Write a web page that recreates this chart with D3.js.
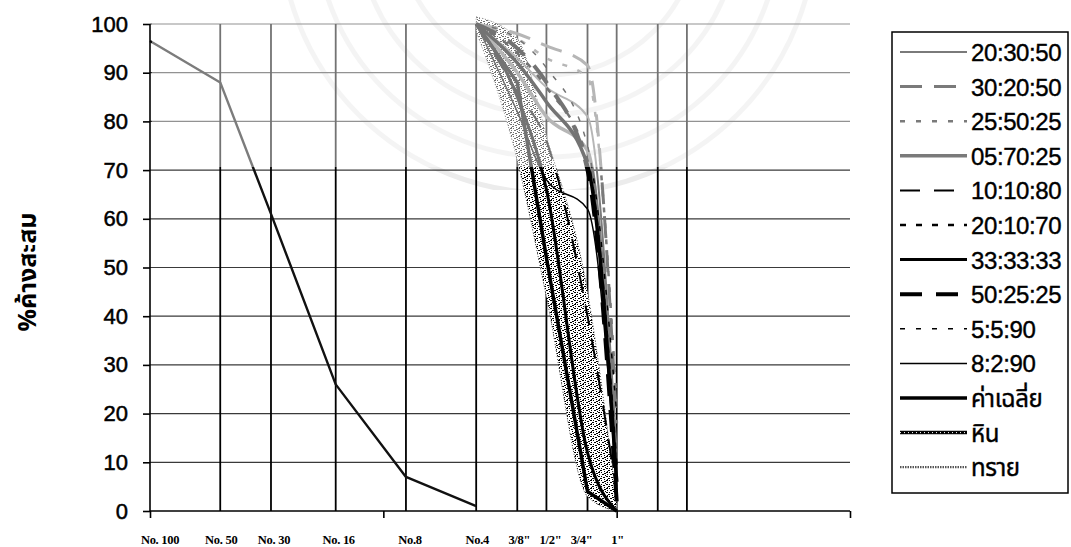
<!DOCTYPE html>
<html>
<head>
<meta charset="utf-8">
<script src="https://cdn.jsdelivr.net/npm/d3@7"></script>
<style>
body { margin: 0; background: #fff; }
svg { display: block; }
.grid-h line { stroke: #3a3a3a; stroke-width: 1.2; }
.grid-v line { stroke: #000; stroke-width: 1.8; }
.axis path, .axis line { stroke: #000; stroke-width: 1.6; }
.y.axis text { font-family: "Liberation Sans", Arial, sans-serif; font-size: 22px; fill: #000; stroke: #000; stroke-width: 0.5; }
.xlabel { font-family: "Liberation Serif", "Times New Roman", serif; font-weight: bold; font-size: 12.5px; letter-spacing: -0.3px; }
.legend text { font-family: "Liberation Sans", Arial, sans-serif; font-size: 24px; letter-spacing: -0.4px; fill: #000; stroke: #000; stroke-width: 0.4; }
</style>
</head>
<body>
<div id="grading-chart"></div>
<script>
// sieve labels and their positions on the log axis
var sieveLabels = ["No. 100", "No. 50", "No. 30", "No. 16", "No.8", "No.4", "3/8\"", "1/2\"", "3/4\"", "1\""];
var sieveSizes = [1, 2, 3.3, 6.25, 12.5, 25, 37.5, 50, 75, 100];
var extraGrid = [150, 200];
var yTicks = [0, 10, 20, 30, 40, 50, 60, 70, 80, 90, 100];

// coarse part: No.4, 3/8", 1/2", 3/4", 1"
var coarseSizes = [25, 37.5, 50, 75, 100];
var seriesNames = ["20:30:50", "30:20:50", "25:50:25", "05:70:25", "10:10:80", "20:10:70",
                   "33:33:33", "50:25:25", "5:5:90", "8:2:90", "ค่าเฉลี่ย", "หิน", "ทราย"];
var mix203050 = [100, 93, 87, 81, 12];
var mix302050 = [100, 98, 95.5, 91.5, 18];
var mix255025 = [100, 97, 93, 89, 22];
var mix057025 = [100, 90, 81, 74, 6];
var mix101080 = [100, 86, 76, 40, 4];
var mix201070 = [100, 94, 87, 72, 9];
var mix333333 = [100, 85, 66, 12, 0];
var mix502525 = [100, 95, 88, 70, 2];
var mix5590 = [100, 97, 91, 75, 20];
var mix8290 = [100, 82, 68, 62, 5];
var average = [100, 92, 84, 71, 6];
var rock = [100, 88, 52, 4, 0];
// sand: No.100 .. No.4
var sand = [96.5, 88, 61, 26, 7, 1];
// stippled band over the coarse sieves
var bandHigh = [101.5, 97, 77, 45, 2];
var bandLow = [98.5, 72, 44, 3, 0];

var seriesValues = [mix203050, mix302050, mix255025, mix057025, mix101080, mix201070,
                    mix333333, mix502525, mix5590, mix8290, average, rock, sand];

// line styles per series (same order as seriesNames)
var styles = [
  {color: "#7a7a7a", width: 2,   dash: null},
  {color: "#7a7a7a", width: 3,   dash: "22,12"},
  {color: "#7a7a7a", width: 2.5, dash: "5,11"},
  {color: "#7a7a7a", width: 3.5, dash: null},
  {color: "#000",    width: 2,   dash: "20,14"},
  {color: "#000",    width: 2.5, dash: "6,10"},
  {color: "#000",    width: 3,   dash: null},
  {color: "#000",    width: 4,   dash: "22,14"},
  {color: "#000",    width: 1.5, dash: "5,11"},
  {color: "#000",    width: 1.5, dash: null},
  {color: "#000",    width: 3.5, dash: null},
  {color: "#000",    width: 3.5, dash: null},
  {color: "#555",    width: 2.2, dash: "1.5,1"}
];
// hand-placed label nudges (px)
var labelShift = [10, 1, 3, 3, 4, 1, 2, 4, -6, 1];

var W = 1071, H = 547;
var margin = {top: 24, right: 221, bottom: 36, left: 150},
    width = W - margin.left - margin.right,
    height = H - margin.top - margin.bottom;

// Set the ranges
var x = d3.scaleLog().domain([1, 1000]).range([0, width]);
var y = d3.scaleLinear().domain([0, 100]).range([height, 0]);

var svg0 = d3.select("#grading-chart").append("svg")
    .attr("width", W).attr("height", H);

// stipple pattern
var defs = svg0.append("defs");
var pat = defs.append("pattern").attr("id", "stipple")
    .attr("patternUnits", "userSpaceOnUse").attr("width", 8).attr("height", 8);
pat.append("rect").attr("width", 8).attr("height", 8).attr("fill", "#fff");
[[0,0,2],[3,0,1],[6,1,2],[1,2,1],[4,2,2],[7,3,1],[0,4,2],[3,4,1],[5,5,2],[2,6,2],[6,7,1],[1,7,1]].forEach(function(p) {
  pat.append("rect").attr("x", p[0]).attr("y", p[1]).attr("width", p[2]).attr("height", 1).attr("fill", "#000");
});
defs.append("clipPath").attr("id", "wm-clip").append("rect")
    .attr("x", 0).attr("y", 0).attr("width", W).attr("height", 190);

// faint watermark behind
var wm = svg0.append("g").attr("clip-path", "url(#wm-clip)")
    .attr("fill", "none").attr("stroke", "#ececec");
[150, 190, 232, 268].forEach(function(r) {
  wm.append("circle").attr("cx", 548).attr("cy", -75).attr("r", r).attr("stroke-width", 5);
});

var svg = svg0.append("g")
    .attr("transform", "translate(" + margin.left + "," + margin.top + ")");

// horizontal grid
svg.append("g").attr("class", "grid-h")
  .selectAll("line").data(yTicks.slice(1)).enter().append("line")
    .attr("x1", 0).attr("x2", width)
    .attr("y1", function(d) { return y(d); }).attr("y2", function(d) { return y(d); });

// vertical grid at sieve sizes
svg.append("g").attr("class", "grid-v")
  .selectAll("line").data(sieveSizes.slice(1).concat(extraGrid)).enter().append("line")
    .attr("x1", function(d) { return x(d); }).attr("x2", function(d) { return x(d); })
    .attr("y1", 0).attr("y2", height);

// stippled band
var band = d3.area()
    .x(function(d, i) { return x(coarseSizes[i]); })
    .y0(function(d, i) { return y(bandLow[i]); })
    .y1(function(d) { return y(d); })
    .curve(d3.curveMonotoneX);
svg.append("path")
    .attr("d", band(bandHigh))
    .attr("fill", "url(#stipple)")
    .attr("stroke", "#444").attr("stroke-width", 1).attr("stroke-dasharray", "1,2");

// series lines
var smoothLine = d3.line()
    .x(function(d, i) { return x(coarseSizes[i]); })
    .y(function(d) { return y(d); })
    .curve(d3.curveMonotoneX);
var straightCoarse = d3.line()
    .x(function(d, i) { return x(coarseSizes[i]); })
    .y(function(d) { return y(d); });
var sandLine = d3.line()
    .x(function(d, i) { return x(sieveSizes[i]); })
    .y(function(d) { return y(d); });

seriesValues.forEach(function(vals, k) {
  var s = styles[k], name = seriesNames[k], d;
  if (name == "ทราย") d = sandLine(vals);
  else if (name == "หิน") d = straightCoarse(vals);
  else d = smoothLine(vals);
  svg.append("path")
      .attr("d", d)
      .attr("fill", "none")
      .attr("stroke", name == "ทราย" ? "#111" : s.color)
      .attr("stroke-width", name == "ทราย" ? 2.4 : s.width)
      .attr("stroke-dasharray", name == "ทราย" ? null : s.dash)
      .attr("stroke-linejoin", "round");
});

// axes
var yAxis = d3.axisLeft(y).tickValues(yTicks).tickSize(7).tickPadding(15);
svg.append("g").attr("class", "y axis").call(yAxis)
  .select(".domain").attr("d", "M0," + height + "V0");
var xAxis = d3.axisBottom(x).tickValues([1, 10, 100, 1000]).tickSize(7).tickFormat("");
svg.append("g").attr("class", "x axis")
    .attr("transform", "translate(0," + height + ")")
    .call(xAxis)
  .select(".domain").attr("d", "M0,0H" + width);

// washed-out band from the scan watermark
svg0.append("rect")
    .attr("x", margin.left + 2).attr("y", 0)
    .attr("width", 730).attr("height", 167)
    .attr("fill", "#fff").attr("opacity", 0.45);

// sieve labels
svg.append("g").selectAll("text").data(sieveLabels).enter().append("text")
    .attr("class", "xlabel")
    .attr("x", function(d, i) { return x(sieveSizes[i]) + labelShift[i]; })
    .attr("y", height + 33)
    .attr("text-anchor", "middle")
    .text(function(d) { return d; });

// y title
svg0.append("text")
    .attr("transform", "translate(36,272) rotate(-90)")
    .attr("text-anchor", "middle")
    .style("font-family", "'Noto Sans Thai', 'Loma', 'Garuda', 'Tlwg Typo', sans-serif")
    .style("font-weight", "bold")
    .style("font-size", "25px")
    .text("%ค้างสะสม");

// legend
var legend = svg0.append("g").attr("class", "legend");
legend.append("rect")
    .attr("x", 892).attr("y", 32).attr("width", 176).attr("height", 461)
    .attr("fill", "#fff").attr("stroke", "#000").attr("stroke-width", 1.5);
seriesNames.forEach(function(name, i) {
  var s = styles[i], ly = 52 + i * 34.6;
  legend.append("line")
      .attr("x1", 900).attr("x2", 967).attr("y1", ly).attr("y2", ly)
      .attr("stroke", s.color).attr("stroke-width", s.width)
      .attr("stroke-dasharray", s.dash);
  if (name == "หิน") {
    legend.append("line")
        .attr("x1", 900).attr("x2", 967).attr("y1", ly).attr("y2", ly)
        .attr("stroke", "#fff").attr("stroke-width", 1).attr("stroke-dasharray", "1,3");
  }
  legend.append("text")
      .attr("x", 971).attr("y", ly + 9)
      .style("font-family", /[\u0E00-\u0E7F]/.test(name) ? "'Noto Sans Thai', 'Loma', 'Garuda', sans-serif" : null)
      .text(name);
});
</script>
</body>
</html>
